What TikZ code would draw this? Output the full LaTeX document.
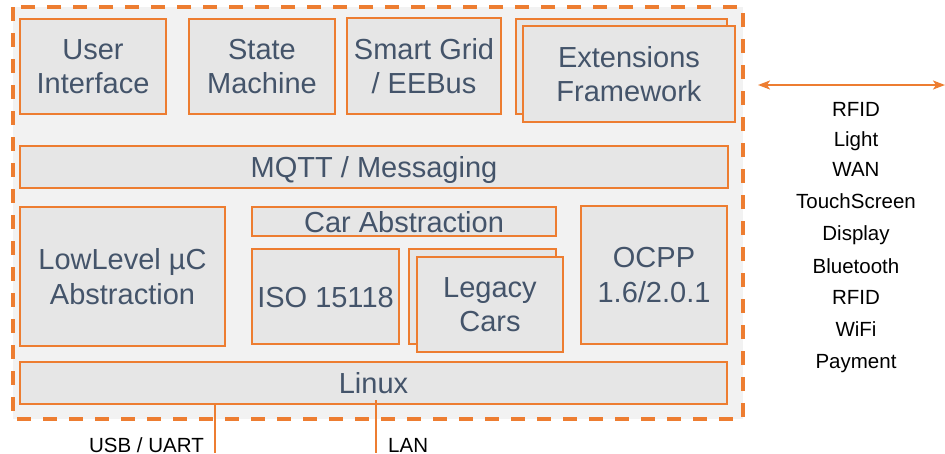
\documentclass[tikz,border=0pt]{standalone}
\usepackage{fontspec}
\setmainfont{Liberation Sans}
\usetikzlibrary{arrows.meta}
\definecolor{accent}{HTML}{ED7D31}
\definecolor{boxfill}{HTML}{E6E6E6}
\definecolor{panel}{HTML}{F2F2F2}
\definecolor{boxtext}{HTML}{44546A}
\tikzset{
  modbox/.style={draw=accent, line width=2pt, fill=boxfill, inner sep=0pt,
    text=boxtext, align=center, font=\fontsize{29}{34.5}\selectfont},
  oneline/.style={text height=21pt, text depth=0pt},
  iflabel/.style={anchor=base, inner sep=0pt, text=black,
    font=\fontsize{20.5}{24}\selectfont},
  wire/.style={draw=accent, line width=1.5pt},
  bustip/.tip={Stealth[length=12pt,width=9pt,inset=3pt]}
}
\begin{document}
\begin{tikzpicture}[x=1pt,y=-1pt]
\useasboundingbox (0,0) rectangle (945,453);

% framework boundary
\draw[accent, fill=panel, line width=4pt, dash pattern=on 14pt off 12pt]
  (13,7) rectangle (743,419);

% top row of modules
\node[modbox, minimum width=146pt, minimum height=95pt] (ui) at (93,66.5) {User\\Interface};
\node[modbox, minimum width=146pt, minimum height=95pt] (sm) at (262,66.5) {State\\Machine};
\node[modbox, minimum width=154pt, minimum height=96pt] (sg) at (424,66) {Smart Grid\\/ EEBus};
\node[modbox, minimum width=211pt, minimum height=95pt] (extback) at (621.5,66.5) {};
\node[modbox, minimum width=212pt, minimum height=96pt] (ext) at (629,74) {Extensions\\Framework};

% messaging layer
\node[modbox, oneline, minimum width=708pt, minimum height=42pt] (mqtt) at (374,167) {MQTT / Messaging};

% middle row
\node[modbox, minimum width=205pt, minimum height=139pt] (ll) at (122.5,276.5) {LowLevel µC\\Abstraction};
\node[modbox, oneline, minimum width=304pt, minimum height=29pt] (car) at (404,221.5) {Car Abstraction};
\node[modbox, oneline, minimum width=147pt, minimum height=95pt] (iso) at (325.5,296.5) {ISO 15118};
\node[modbox, minimum width=147pt, minimum height=95pt] (legback) at (482.5,296.5) {};
\node[modbox, minimum width=146pt, minimum height=95pt] (leg) at (490,304.5) {Legacy\\Cars};
\node[modbox, minimum width=146pt, minimum height=138pt] (ocpp) at (654,275) {OCPP\\1.6/2.0.1};

% operating system
\node[modbox, oneline, minimum width=707pt, minimum height=42pt] (linux) at (373.5,383) {Linux};

% hardware links below
\coordinate (usbend) at (215,453);
\coordinate (lanstart) at (376,400);
\coordinate (lanend) at (376,453);
\draw[wire] (linux.south -| usbend) -- (usbend);
\draw[wire] (lanstart) -- (lanend);
\node[iflabel, anchor=base east] (usb) at (204,452) {USB / UART};
\node[iflabel, anchor=base west] (lan) at (388,452) {LAN};

% peripheral interfaces on the right
\coordinate (busl) at (758,85);
\coordinate (busr) at (945,85);
\draw[wire, line width=2pt, bustip-bustip] (busl) -- (busr);
\node[iflabel] (p1) at (856,116.5) {RFID};
\node[iflabel] (p2) at (856,146.5) {Light};
\node[iflabel] (p3) at (856,176.5) {WAN};
\node[iflabel] (p4) at (856,208) {TouchScreen};
\node[iflabel] (p5) at (856,240) {Display};
\node[iflabel] (p6) at (856,273.5) {Bluetooth};
\node[iflabel] (p7) at (856,304.5) {RFID};
\node[iflabel] (p8) at (856,336.5) {WiFi};
\node[iflabel] (p9) at (856,368) {Payment};
\end{tikzpicture}
\end{document}
